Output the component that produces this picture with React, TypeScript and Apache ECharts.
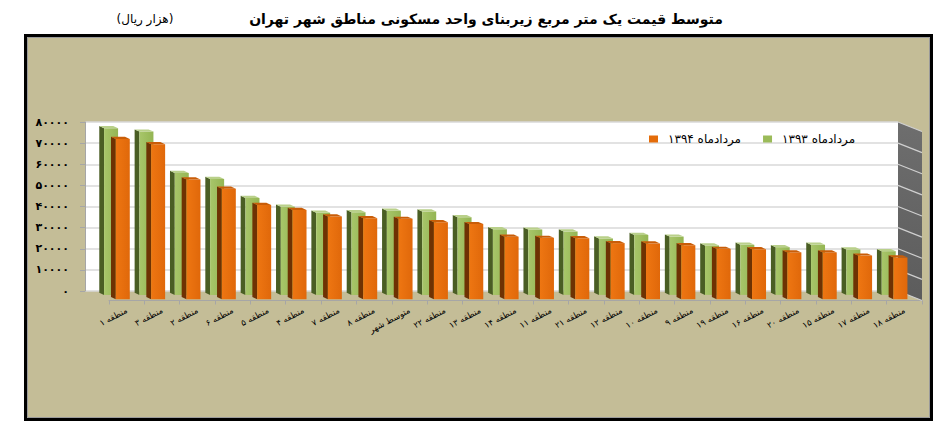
import * as echarts from "echarts";
import { useEffect, useRef } from "react";

const FA_DIGITS = "۰۱۲۳۴۵۶۷۸۹";
const toFa = (v: number | string) =>
  String(v).replace(/\d/g, (d) => FA_DIGITS[+d]);

// categories, left to right as in the picture
const categories = [
  "منطقه ۱",
  "منطقه ۳",
  "منطقه ۲",
  "منطقه ۶",
  "منطقه ۵",
  "منطقه ۴",
  "منطقه ۷",
  "منطقه ۸",
  "متوسط شهر",
  "منطقه ۲۲",
  "منطقه ۱۳",
  "منطقه ۱۴",
  "منطقه ۱۱",
  "منطقه ۲۱",
  "منطقه ۱۲",
  "منطقه ۱۰",
  "منطقه ۹",
  "منطقه ۱۹",
  "منطقه ۱۶",
  "منطقه ۲۰",
  "منطقه ۱۵",
  "منطقه ۱۷",
  "منطقه ۱۸",
];

const seriesNames = ["مردادماه ۱۳۹۳", "مردادماه ۱۳۹۴"];

// مردادماه ۱۳۹۳
const values1393 = [
  78100, 76500, 56900, 54100, 45100, 40900, 38100, 38300, 39000, 38700, 36000,
  30300, 30100, 29200, 25900, 27600, 26800, 22600, 22900, 21800, 22900, 20700,
  19900,
];

// مردادماه ۱۳۹۴
const values1394 = [
  73000, 70500, 53800, 49500, 41800, 39400, 36300, 35500, 35200, 33600, 32700,
  26700, 26200, 26000, 23700, 23500, 22700, 21000, 20800, 19300, 19300, 17800,
  16900,
];

const yTicks = [0, 10000, 20000, 30000, 40000, 50000, 60000, 70000, 80000];

const titleText = "متوسط قیمت یک متر مربع زیربنای واحد مسکونی مناطق شهر تهران";
const unitText = "(هزار ریال)";

const FONT = "'DejaVu Sans', sans-serif";

// plot geometry (back wall)
const PLOT_L = 85;
const PLOT_R = 898;
const PLOT_T = 122;
const PLOT_B = 291;
const DEPTH_X = 24;
const DEPTH_Y = 9.5;

function bar3d(offset: number, baseShift: number, front: string[], side: string, topc: string) {
  return (params: any, api: any) => {
    const idx = api.value(0);
    const val = api.value(1);
    const band = api.size([1, 0])[0];
    const [cx, top] = api.coord([idx, val]);
    const base = api.coord([idx, 0])[1] + baseShift;
    const w = band * 0.396;
    const dx = 4.8;
    const dy = 2.2;
    const x0 = cx + band * offset;
    return {
      type: "group",
      children: [
        {
          type: "polygon",
          shape: {
            points: [
              [x0, top],
              [x0 + dx, top + dy],
              [x0 + dx, base + dy],
              [x0, base],
            ],
          },
          style: { fill: side },
        },
        {
          type: "rect",
          shape: { x: x0 + dx, y: top + dy, width: w, height: base - top },
          style: {
            fill: new echarts.graphic.LinearGradient(0, 0, 1, 0, [
              { offset: 0, color: front[0] },
              { offset: 1, color: front[1] },
            ]),
          },
        },
        {
          type: "polygon",
          shape: {
            points: [
              [x0, top],
              [x0 + w, top],
              [x0 + w + dx, top + dy],
              [x0 + dx, top + dy],
            ],
          },
          style: { fill: topc },
        },
      ],
    };
  };
}

export default function App() {
  const chartRef = useRef<HTMLDivElement>(null);

  useEffect(() => {
    if (!chartRef.current) return;
    const chart = echarts.init(chartRef.current, undefined, { renderer: "svg" });

    const step = (PLOT_B - PLOT_T) / (yTicks.length - 1);
    const wallLines = yTicks.map((_, k) => ({
      type: "line",
      z: 1,
      shape: {
        x1: PLOT_R,
        y1: PLOT_B - k * step,
        x2: PLOT_R + DEPTH_X,
        y2: PLOT_B - k * step + DEPTH_Y,
      },
      style: { stroke: "#d0d0d0", lineWidth: 1.2 },
    }));

    chart.setOption({
      animation: false,
      title: [
        {
          text: titleText,
          left: 481,
          top: 7,
          textAlign: "center",
          textStyle: { fontFamily: FONT, fontSize: 14, fontWeight: "bold", color: "#000" },
        },
        {
          text: unitText,
          left: 140,
          top: 8,
          textAlign: "center",
          textStyle: { fontFamily: FONT, fontSize: 12, fontWeight: "normal", color: "#000" },
        },
      ],
      legend: {
        data: [seriesNames[1], seriesNames[0]],
        left: 644,
        top: 128,
        itemWidth: 9,
        itemHeight: 7,
        itemGap: 22,
        icon: "rect",
        textStyle: {
          fontFamily: FONT,
          fontSize: 12,
          color: "#000",
          padding: [0, 0, 0, 5],
        },
      },
      graphic: [
        {
          type: "rect",
          z: -10,
          shape: { x: 25.5, y: 35.5, width: 906, height: 384 },
          style: { fill: "#C4BD97", stroke: "#000", lineWidth: 3 },
        },
        {
          type: "rect",
          z: -9,
          shape: { x: 27.5, y: 37.5, width: 902, height: 380 },
          style: { fill: "none", stroke: "#9a9a9a", lineWidth: 1 },
        },
        {
          type: "polygon",
          z: 1,
          shape: {
            points: [
              [PLOT_R, PLOT_T],
              [PLOT_R + DEPTH_X, PLOT_T + DEPTH_Y],
              [PLOT_R + DEPTH_X, PLOT_B + DEPTH_Y],
              [PLOT_R, PLOT_B],
            ],
          },
          style: {
            fill: new echarts.graphic.LinearGradient(0, 0, 0, 1, [
              { offset: 0, color: "#6e6e6e" },
              { offset: 1, color: "#5c5c5c" },
            ]),
          },
        },
        ...wallLines,
      ],
      grid: [
        {
          left: PLOT_L,
          right: 941 - PLOT_R,
          top: PLOT_T,
          bottom: 428 - PLOT_B,
          show: true,
          backgroundColor: "#ffffff",
          borderWidth: 0,
        },
        {
          left: PLOT_L + DEPTH_X,
          right: 941 - PLOT_R - DEPTH_X,
          top: PLOT_T + DEPTH_Y,
          bottom: 428 - PLOT_B - DEPTH_Y,
        },
      ],
      xAxis: [
        {
          gridIndex: 0,
          type: "category",
          data: categories,
          axisLine: { show: false },
          axisTick: { show: false },
          axisLabel: { show: false },
        },
        {
          gridIndex: 1,
          type: "category",
          data: categories,
          axisLine: { lineStyle: { color: "#a6a6a6", width: 1 } },
          axisTick: { show: true, length: 4, lineStyle: { color: "#a6a6a6" } },
          axisLabel: {
            interval: 0,
            rotate: 28,
            margin: 9,
            fontFamily: FONT,
            fontSize: 8.5,
            fontWeight: "normal",
            color: "#000",
          },
        },
      ],
      yAxis: [
        {
          gridIndex: 0,
          type: "value",
          min: 0,
          max: 80000,
          interval: 10000,
          axisLine: { show: true, lineStyle: { color: "#a6a6a6" } },
          axisTick: { show: true, length: 5, lineStyle: { color: "#a6a6a6" } },
          axisLabel: {
            margin: 16,
            fontFamily: FONT,
            fontSize: 11,
            fontWeight: "bold",
            color: "#000",
            formatter: (v: number) => toFa(v),
          },
          splitLine: { lineStyle: { color: "#d9d9d9", width: 1.5 } },
        },
        { gridIndex: 1, type: "value", show: false, min: 0, max: 1 },
      ],
      series: [
        {
          name: seriesNames[0],
          type: "custom",
          xAxisIndex: 0,
          yAxisIndex: 0,
          itemStyle: { color: "#9BBB59" },
          encode: { x: 0, y: 1 },
          data: values1393.map((v, i) => [i, v]),
          renderItem: bar3d(-0.096, 1.7, ["#a8c66a", "#94b553"], "#4a5e24", "#b9d08a"),
        },
        {
          name: seriesNames[1],
          type: "custom",
          xAxisIndex: 0,
          yAxisIndex: 0,
          itemStyle: { color: "#E46C0A" },
          encode: { x: 0, y: 1 },
          data: values1394.map((v, i) => [i, v]),
          renderItem: bar3d(0.235, 6, ["#ee7612", "#e0680a"], "#6e3203", "#c95d08"),
        },
      ],
    });

    return () => {
      chart.dispose();
    };
  }, []);

  return (
    <div
      ref={chartRef}
      style={{ position: "fixed", left: 0, top: 0, width: 941, height: 428, background: "#fff" }}
    />
  );
}
